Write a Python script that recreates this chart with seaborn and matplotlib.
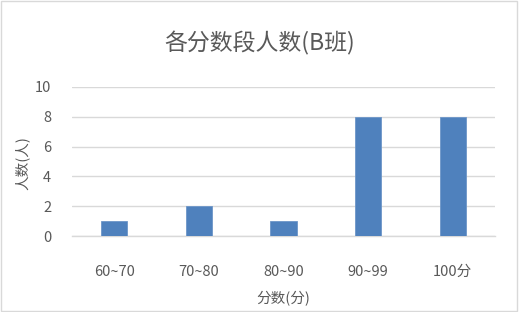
import pandas as pd
import seaborn as sns
import matplotlib.pyplot as plt
from matplotlib.patches import Rectangle

# data
categories = ["60~70", "70~80", "80~90", "90~99", "100分"]
counts = [1, 2, 1, 8, 8]

title = "各分数段人数(B班)"
x_label = "分数(分)"
y_label = "人数(人)"

sns.set_style("white")
plt.rcParams['font.family'] = ['Noto Sans CJK SC', 'DejaVu Sans']

text_color = "#595959"
grid_color = "#D9D9D9"
bar_color = "#4F81BD"

df = pd.DataFrame({"category": categories, "count": counts})

fig = plt.figure(figsize=(5.19, 3.12), dpi=100)
ax = fig.add_axes([72 / 519, 76 / 312, 423 / 519, 149 / 312])

sns.barplot(data=df, x="category", y="count", color=bar_color,
            width=0.31, saturation=1, linewidth=0.6, edgecolor="#6D96C8",
            ax=ax, zorder=3)

ax.set_ylim(0, 10)
ax.set_yticks(range(0, 11, 2))
ax.yaxis.grid(True, color=grid_color, linewidth=1, zorder=0)
for side in ["top", "right", "left"]:
    ax.spines[side].set_visible(False)
ax.spines["bottom"].set_color(grid_color)
ax.spines["bottom"].set_linewidth(1)

ax.tick_params(axis="x", length=0, pad=21, labelsize=10.5, labelcolor=text_color)
ax.tick_params(axis="y", length=0, pad=15, labelsize=10.5, labelcolor=text_color)

ax.set_xlabel(x_label, fontsize=10.5, color=text_color)
ax.xaxis.set_label_coords(0.5, -0.37)
ax.set_ylabel(y_label, fontsize=10.5, color=text_color)
ax.yaxis.set_label_coords(-0.1, 0.49)

fig.text(0.5, 1 - 43 / 312, title, ha="center", va="center",
         fontsize=16.5, color=text_color)

fig.patches.append(Rectangle((0.002, 0.003), 0.995, 0.993, transform=fig.transFigure,
                             fill=False, edgecolor=grid_color, linewidth=1))

fig.savefig("out.png", dpi=100)
